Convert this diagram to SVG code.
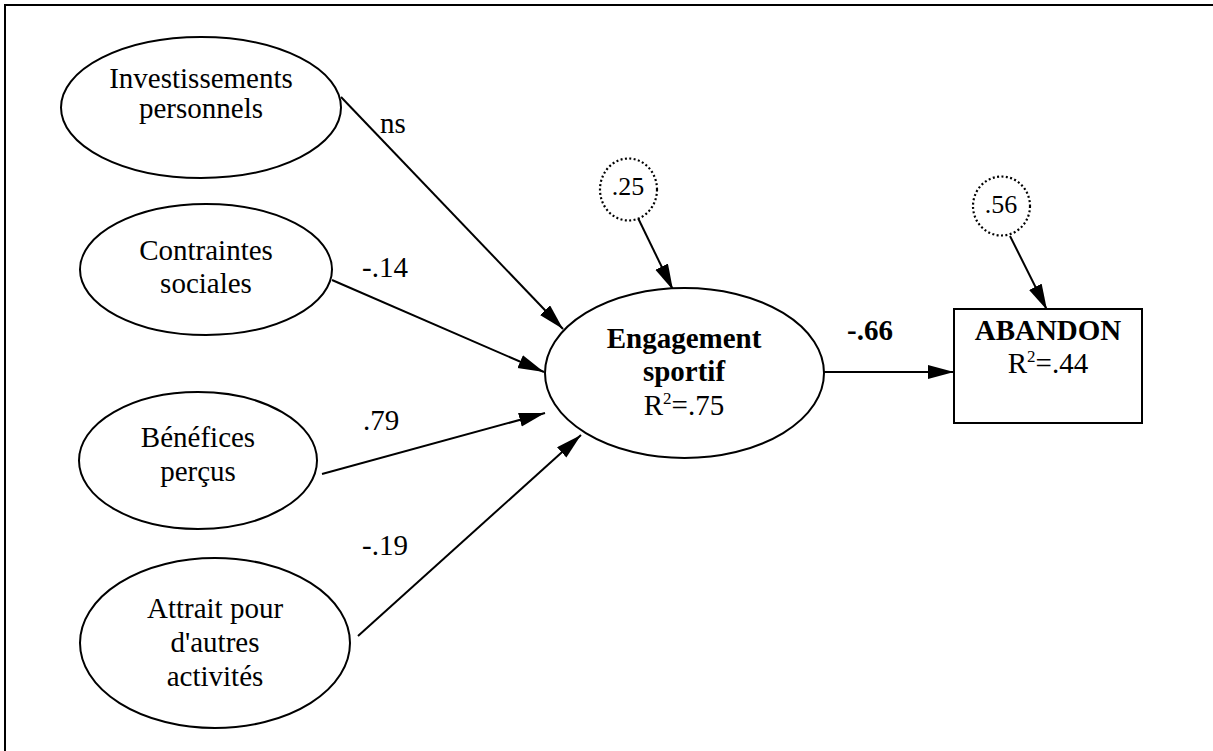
<svg xmlns="http://www.w3.org/2000/svg" width="1213" height="751" viewBox="0 0 1213 751">
  <defs>
    <marker id="arrow" markerUnits="userSpaceOnUse" markerWidth="28" markerHeight="16" refX="26" refY="7" orient="auto">
      <path d="M0,0 L26,7 L0,14 Z" fill="#000"/>
    </marker>
    <style>
      .lbl { font-size: 29px; text-anchor: middle; }
      .edge { font-size: 29px; }
      .bold { font-weight: bold; }
      .err { font-size: 26px; text-anchor: middle; }
      .shape { fill: #fff; stroke: #000; stroke-width: 2; }
      .resid { fill: #fff; stroke: #000; stroke-width: 2.2; stroke-dasharray: 2 2.4; }
      .link { stroke: #000; stroke-width: 2; fill: none; marker-end: url(#arrow); }
    </style>
  </defs>

  <rect width="1213" height="751" fill="#fff"/>
  <!-- outer frame -->
  <rect x="5" y="5" width="1300" height="850" fill="none" stroke="#000" stroke-width="2"/>

  <g font-family="'Liberation Serif', 'DejaVu Serif', serif" fill="#000">
  <!-- paths -->
  <g id="connectors">
    <line class="link" x1="341" y1="97" x2="563" y2="329"/>
    <line class="link" x1="332" y1="280" x2="544" y2="372"/>
    <line class="link" x1="322" y1="474" x2="545" y2="413"/>
    <line class="link" x1="358" y1="636" x2="581" y2="435"/>
    <line class="link" x1="824" y1="372" x2="954" y2="372"/>
    <line class="link" x1="638" y1="218" x2="673" y2="290"/>
    <line class="link" x1="1010" y1="236" x2="1047" y2="310"/>

    <text class="edge" x="380" y="133">ns</text>
    <text class="edge" x="362" y="277">-.14</text>
    <text class="edge" x="363" y="430">.79</text>
    <text class="edge" x="362" y="555">-.19</text>
    <text class="edge bold" x="847" y="340">-.66</text>
  </g>

  <g id="investissements">
    <ellipse class="shape" cx="201" cy="107.5" rx="140" ry="70.5"/>
    <text class="lbl" x="201" y="88">Investissements</text>
    <text class="lbl" x="201" y="118">personnels</text>
  </g>

  <g id="contraintes">
    <ellipse class="shape" cx="206" cy="269.5" rx="126" ry="65.5"/>
    <text class="lbl" x="206" y="260">Contraintes</text>
    <text class="lbl" x="206" y="293">sociales</text>
  </g>

  <g id="benefices">
    <ellipse class="shape" cx="198" cy="460.5" rx="119" ry="68.5"/>
    <text class="lbl" x="198" y="447">Bénéfices</text>
    <text class="lbl" x="198" y="481">perçus</text>
  </g>

  <g id="attrait">
    <ellipse class="shape" cx="215" cy="643" rx="135" ry="85"/>
    <text class="lbl" x="215" y="618">Attrait pour</text>
    <text class="lbl" x="215" y="652">d'autres</text>
    <text class="lbl" x="215" y="686">activités</text>
  </g>

  <g id="engagement">
    <ellipse class="shape" cx="684.5" cy="373" rx="139.5" ry="85"/>
    <text class="lbl bold" x="684" y="348">Engagement</text>
    <text class="lbl bold" x="684" y="381">sportif</text>
    <text class="lbl" x="684" y="415">R<tspan dy="-11" font-size="17">2</tspan><tspan dy="11">=.75</tspan></text>
  </g>

  <g id="abandon">
    <rect class="shape" x="954" y="309" width="188" height="114"/>
    <text class="lbl bold" x="1048" y="340">ABANDON</text>
    <text class="lbl" x="1048" y="373">R<tspan dy="-11" font-size="17">2</tspan><tspan dy="11">=.44</tspan></text>
  </g>

  <g id="resid-engagement">
    <ellipse class="resid" cx="628.5" cy="189.5" rx="28.5" ry="31"/>
    <text class="err" x="628" y="195">.25</text>
  </g>

  <g id="resid-abandon">
    <ellipse class="resid" cx="1001.5" cy="206" rx="28.5" ry="29.5"/>
    <text class="err" x="1001" y="213">.56</text>
  </g>
  </g>
</svg>
